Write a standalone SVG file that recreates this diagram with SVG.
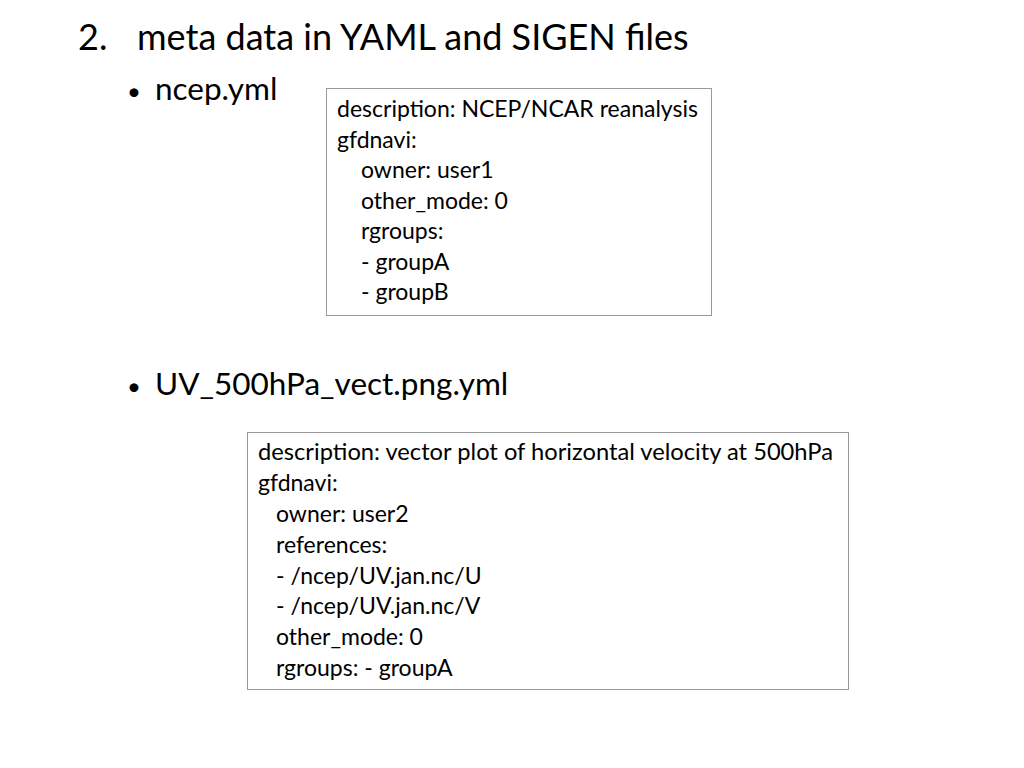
<svg xmlns="http://www.w3.org/2000/svg" width="1024" height="768" viewBox="0 0 1024 768">
<style>
text{font-family:Lato,"Open Sans","Liberation Sans",sans-serif;fill:#000}
.title{font-size:36px}
.bul{font-size:31.5px}
.dot{font-size:24px}
.box{fill:#fff;stroke:#9a9a9a;stroke-width:1}
.yml{font-size:23px}
</style>
<rect width="1024" height="768" fill="#fff"/>
<g id="title">
<text class="title" x="78" y="50">2.</text>
<text class="title" x="137" y="50">meta data in YAML and SIGEN files</text>
</g>
<g id="bullet1">
<text class="dot" x="127" y="100">•</text>
<text class="bul" x="155" y="100">ncep.yml</text>
</g>
<g id="bullet2">
<text class="dot" x="127" y="395">•</text>
<text class="bul" x="155" y="395">UV_500hPa_vect.png.yml</text>
</g>
<g id="ncep_box">
<rect class="box" x="326.5" y="88.5" width="385" height="227"/>
<text class="yml" x="337" y="117" textLength="361" lengthAdjust="spacingAndGlyphs">description: NCEP/NCAR reanalysis</text>
<text class="yml" x="337" y="147.5">gfdnavi:</text>
<text class="yml" x="361" y="178">owner: user1</text>
<text class="yml" x="361" y="208.5">other_mode: 0</text>
<text class="yml" x="361" y="239">rgroups:</text>
<text class="yml" x="361" y="269.5">- groupA</text>
<text class="yml" x="361" y="300">- groupB</text>
</g>
<g id="uv_box">
<rect class="box" x="247.5" y="432.5" width="601" height="257"/>
<text class="yml" x="258" y="460" textLength="575" lengthAdjust="spacingAndGlyphs">description: vector plot of horizontal velocity at 500hPa</text>
<text class="yml" x="258" y="491">gfdnavi:</text>
<text class="yml" x="276" y="522">owner: user2</text>
<text class="yml" x="276" y="552.5">references:</text>
<text class="yml" x="276" y="583.5">- /ncep/UV.jan.nc/U</text>
<text class="yml" x="276" y="614">- /ncep/UV.jan.nc/V</text>
<text class="yml" x="276" y="645">other_mode: 0</text>
<text class="yml" x="276" y="676">rgroups: - groupA</text>
</g>
</svg>
